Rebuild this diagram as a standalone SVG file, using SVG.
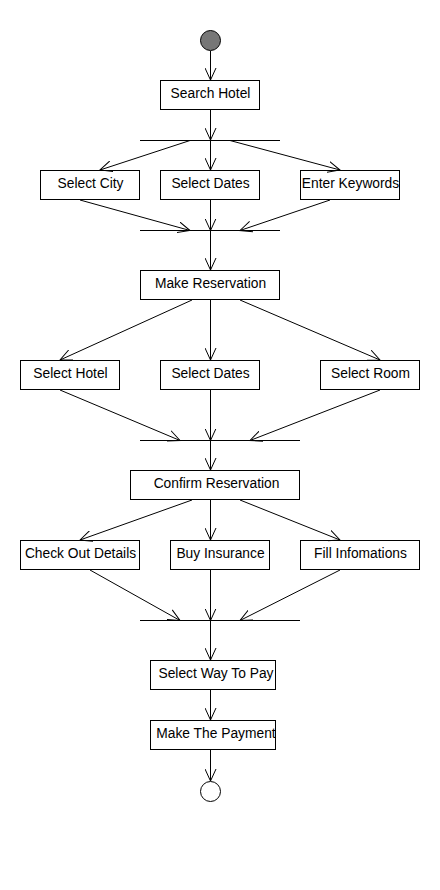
<svg xmlns="http://www.w3.org/2000/svg" width="440" height="890" viewBox="0 0 440 890">
<style>
.n rect{fill:#fff;stroke:#000;stroke-width:1}
.n text{font-family:"Liberation Sans",Arial,sans-serif;font-size:13.8px;fill:#000;text-anchor:middle}
.c line{stroke:#000;stroke-width:1;fill:none}
.c line.a{marker-end:url(#arr)}
.bar{stroke:#000;stroke-width:1}
</style>
<defs>
<marker id="arr" markerWidth="14" markerHeight="12" refX="12" refY="6" orient="auto" markerUnits="userSpaceOnUse">
<path d="M0,0.5 L12,6 L0,11.5" fill="none" stroke="#000" stroke-width="1"/>
</marker>
</defs>
<rect width="440" height="890" fill="#fff"/>
<g id="start"><circle cx="210.5" cy="40.5" r="10" fill="#777" stroke="#000"/></g>
<g id="fork1"><line class="bar" x1="140" y1="140.5" x2="280" y2="140.5"/></g>
<g id="join1"><line class="bar" x1="140" y1="230.5" x2="280" y2="230.5"/></g>
<g id="join2"><line class="bar" x1="140" y1="440.5" x2="300" y2="440.5"/></g>
<g id="join3"><line class="bar" x1="140" y1="620.5" x2="300" y2="620.5"/></g>
<g id="searchHotel" class="n"><rect x="160.5" y="80.5" width="99" height="29"/><text x="210.5" y="97.5">Search Hotel</text></g>
<g id="selectCity" class="n"><rect x="40.5" y="170.5" width="99" height="29"/><text x="90.5" y="187.5">Select City</text></g>
<g id="selectDates1" class="n"><rect x="160.5" y="170.5" width="99" height="29"/><text x="210.5" y="187.5">Select Dates</text></g>
<g id="enterKeywords" class="n"><rect x="300.5" y="170.5" width="99" height="29"/><text x="350.5" y="187.5">Enter Keywords</text></g>
<g id="makeReservation" class="n"><rect x="140.5" y="270.5" width="139" height="29"/><text x="210.5" y="287.5">Make Reservation</text></g>
<g id="selectHotel" class="n"><rect x="20.5" y="360.5" width="99" height="29"/><text x="70.5" y="377.5">Select Hotel</text></g>
<g id="selectDates2" class="n"><rect x="160.5" y="360.5" width="99" height="29"/><text x="210.5" y="377.5">Select Dates</text></g>
<g id="selectRoom" class="n"><rect x="320.5" y="360.5" width="99" height="29"/><text x="370.5" y="377.5">Select Room</text></g>
<g id="confirmReservation" class="n"><rect x="130.5" y="470.5" width="169" height="29"/><text x="216.5" y="487.5">Confirm Reservation</text></g>
<g id="checkOutDetails" class="n"><rect x="20.5" y="540.5" width="119" height="29"/><text x="80.5" y="557.5">Check Out Details</text></g>
<g id="buyInsurance" class="n"><rect x="170.5" y="540.5" width="99" height="29"/><text x="220.5" y="557.5">Buy Insurance</text></g>
<g id="fillInfomations" class="n"><rect x="300.5" y="540.5" width="119" height="29"/><text x="360.5" y="557.5">Fill Infomations</text></g>
<g id="selectWayToPay" class="n"><rect x="150.5" y="660.5" width="125" height="29"/><text x="216" y="677.5">Select Way To Pay</text></g>
<g id="makeThePayment" class="n"><rect x="150.5" y="720.5" width="125" height="29"/><text x="216" y="737.5">Make The Payment</text></g>
<g id="end"><circle cx="210.5" cy="791.5" r="10" fill="#fff" stroke="#000"/></g>
<g id="connectors" class="c">
<line class="a" x1="210.5" y1="51" x2="210.5" y2="80"/>
<line class="a" x1="210.5" y1="110" x2="210.5" y2="140"/>
<line class="a" x1="190" y1="140.5" x2="100" y2="170"/>
<line class="a" x1="210.5" y1="140.5" x2="210.5" y2="170"/>
<line class="a" x1="230" y1="140.5" x2="340" y2="170"/>
<line class="a" x1="80" y1="200" x2="190" y2="230.5"/>
<line class="a" x1="210.5" y1="200" x2="210.5" y2="230.5"/>
<line class="a" x1="330" y1="200" x2="240" y2="230.5"/>
<line class="a" x1="210.5" y1="230.5" x2="210.5" y2="270"/>
<line class="a" x1="192" y1="300" x2="60" y2="360"/>
<line class="a" x1="210.5" y1="300" x2="210.5" y2="360"/>
<line class="a" x1="240" y1="300" x2="380" y2="360"/>
<line class="a" x1="60" y1="390" x2="180" y2="440.5"/>
<line class="a" x1="210.5" y1="390" x2="210.5" y2="440.5"/>
<line class="a" x1="380" y1="390" x2="250" y2="440.5"/>
<line class="a" x1="210.5" y1="440.5" x2="210.5" y2="470"/>
<line class="a" x1="192" y1="500" x2="80" y2="540"/>
<line class="a" x1="210.5" y1="500" x2="210.5" y2="540"/>
<line class="a" x1="240" y1="500" x2="340" y2="540"/>
<line class="a" x1="90" y1="570" x2="180" y2="620.5"/>
<line class="a" x1="210.5" y1="570" x2="210.5" y2="620.5"/>
<line class="a" x1="340" y1="570" x2="240" y2="620.5"/>
<line class="a" x1="210.5" y1="620.5" x2="210.5" y2="660"/>
<line class="a" x1="210.5" y1="690" x2="210.5" y2="720"/>
<line class="a" x1="210.5" y1="750" x2="210.5" y2="781"/>
</g>
</svg>
